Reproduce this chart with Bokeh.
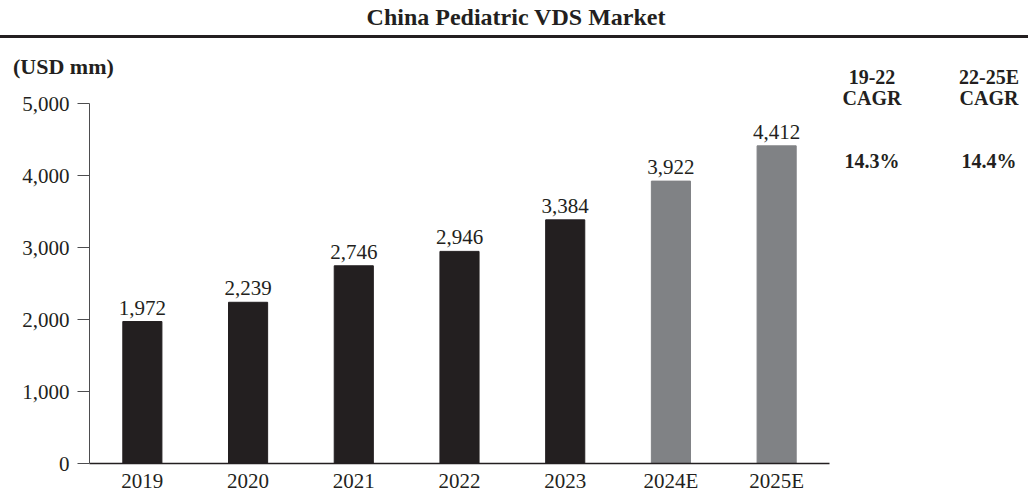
from bokeh.plotting import figure
from bokeh.models import FactorRange, Range1d, NumeralTickFormatter, FixedTicker, ColumnDataSource, Div
from bokeh.layouts import column, row
from bokeh.core.properties import value
from bokeh.embed import file_html
from bokeh.resources import INLINE

# ---- data ----
years = ["2019", "2020", "2021", "2022", "2023", "2024E", "2025E"]
market = [1972, 2239, 2746, 2946, 3384, 3922, 4412]
y_ticks = [0, 1000, 2000, 3000, 4000, 5000]
chart_title = "China Pediatric VDS Market"
unit_label = "(USD mm)"
cagr_periods = ["19-22", "22-25E"]
cagr_values = ["14.3%", "14.4%"]

# ---- style ----
DARK = "#231f20"
GRAY = "#808285"
FONT = "Liberation Serif"
PAGE_W = 1028
HEAD_H = 50
UNIT_H = 30
FIG_W = 840
FIG_H = 415
SIDE_W = PAGE_W - FIG_W
Y_MAX = 5000


def abs_text(txt, left, top, size, width=None, align="left", bold=True):
    w = f"width:{width}px;" if width else ""
    weight = "bold" if bold else "normal"
    return (f'<div style="position:absolute;left:{left}px;top:{top}px;{w}'
            f'text-align:{align};font-family:\'{FONT}\';font-weight:{weight};'
            f'font-size:{size}px;line-height:{size}px;color:{DARK};white-space:nowrap;">'
            f'{txt}</div>')


# header: title + rule
header_html = (f'<div style="position:relative;width:{PAGE_W}px;height:{HEAD_H}px;">'
               + abs_text(chart_title, 2, 5, 24, width=PAGE_W, align="center")
               + f'<div style="position:absolute;left:0;top:35px;width:{PAGE_W}px;'
                 f'height:3px;background:{DARK};"></div></div>')
header = Div(text=header_html, width=PAGE_W, height=HEAD_H, margin=0)

unit_html = (f'<div style="position:relative;width:{FIG_W}px;height:{UNIT_H}px;">'
             + abs_text(unit_label, 13, 6, 22) + '</div>')
unit_div = Div(text=unit_html, width=FIG_W, height=UNIT_H, margin=0)

side_parts = []
for cx, period, val in zip([32, 149], cagr_periods, cagr_values):
    side_parts.append(abs_text(period, cx - 60, 17, 20, width=120, align="center"))
    side_parts.append(abs_text("CAGR", cx - 60, 38, 20, width=120, align="center"))
    side_parts.append(abs_text(val, cx - 60, 101, 20, width=120, align="center"))
side_html = (f'<div style="position:relative;width:{SIDE_W}px;height:{UNIT_H + FIG_H}px;">'
             + "".join(side_parts) + '</div>')
side = Div(text=side_html, width=SIDE_W, height=UNIT_H + FIG_H, margin=0)

# ---- bar chart ----
colors = [GRAY if y.endswith("E") else DARK for y in years]
src = ColumnDataSource(dict(x=years, top=market, color=colors,
                            label=[f"{v:,}" for v in market]))

p = figure(width=FIG_W, height=FIG_H, x_range=FactorRange(factors=years),
           y_range=Range1d(0, Y_MAX), output_backend="svg", toolbar_location=None,
           min_border_left=89, min_border_right=11, min_border_top=23,
           min_border_bottom=20)
p.outline_line_color = None
p.grid.visible = False

p.vbar(x="x", top="top", width=0.37, color="color", source=src)
p.text(x="x", y="top", text="label", source=src, text_align="center",
       text_baseline="alphabetic", y_offset=-14, text_color=DARK,
       text_font=value(FONT), text_font_size="21px")

p.yaxis.ticker = FixedTicker(ticks=y_ticks)
p.yaxis.formatter = NumeralTickFormatter(format="0,0")
p.yaxis.major_tick_out = 12
p.yaxis.major_tick_in = 0
p.yaxis.minor_tick_line_color = None
p.yaxis.axis_line_color = "#4d4d4f"
p.yaxis.major_tick_line_color = "#4d4d4f"
p.yaxis.major_label_standoff = 8
p.yaxis.major_label_text_font = FONT
p.yaxis.major_label_text_font_size = "21px"
p.yaxis.major_label_text_color = DARK

p.xaxis.major_tick_out = 0
p.xaxis.major_tick_in = 0
p.xaxis.axis_line_color = DARK
p.xaxis.axis_line_width = 1.3
p.xaxis.major_label_standoff = 5
p.xaxis.major_label_text_font = FONT
p.xaxis.major_label_text_font_size = "21px"
p.xaxis.major_label_text_color = DARK

layout = column(header, row(column(unit_div, p, spacing=0), side, spacing=0), spacing=0)

open("out.html", "w").write(file_html(layout, INLINE))
